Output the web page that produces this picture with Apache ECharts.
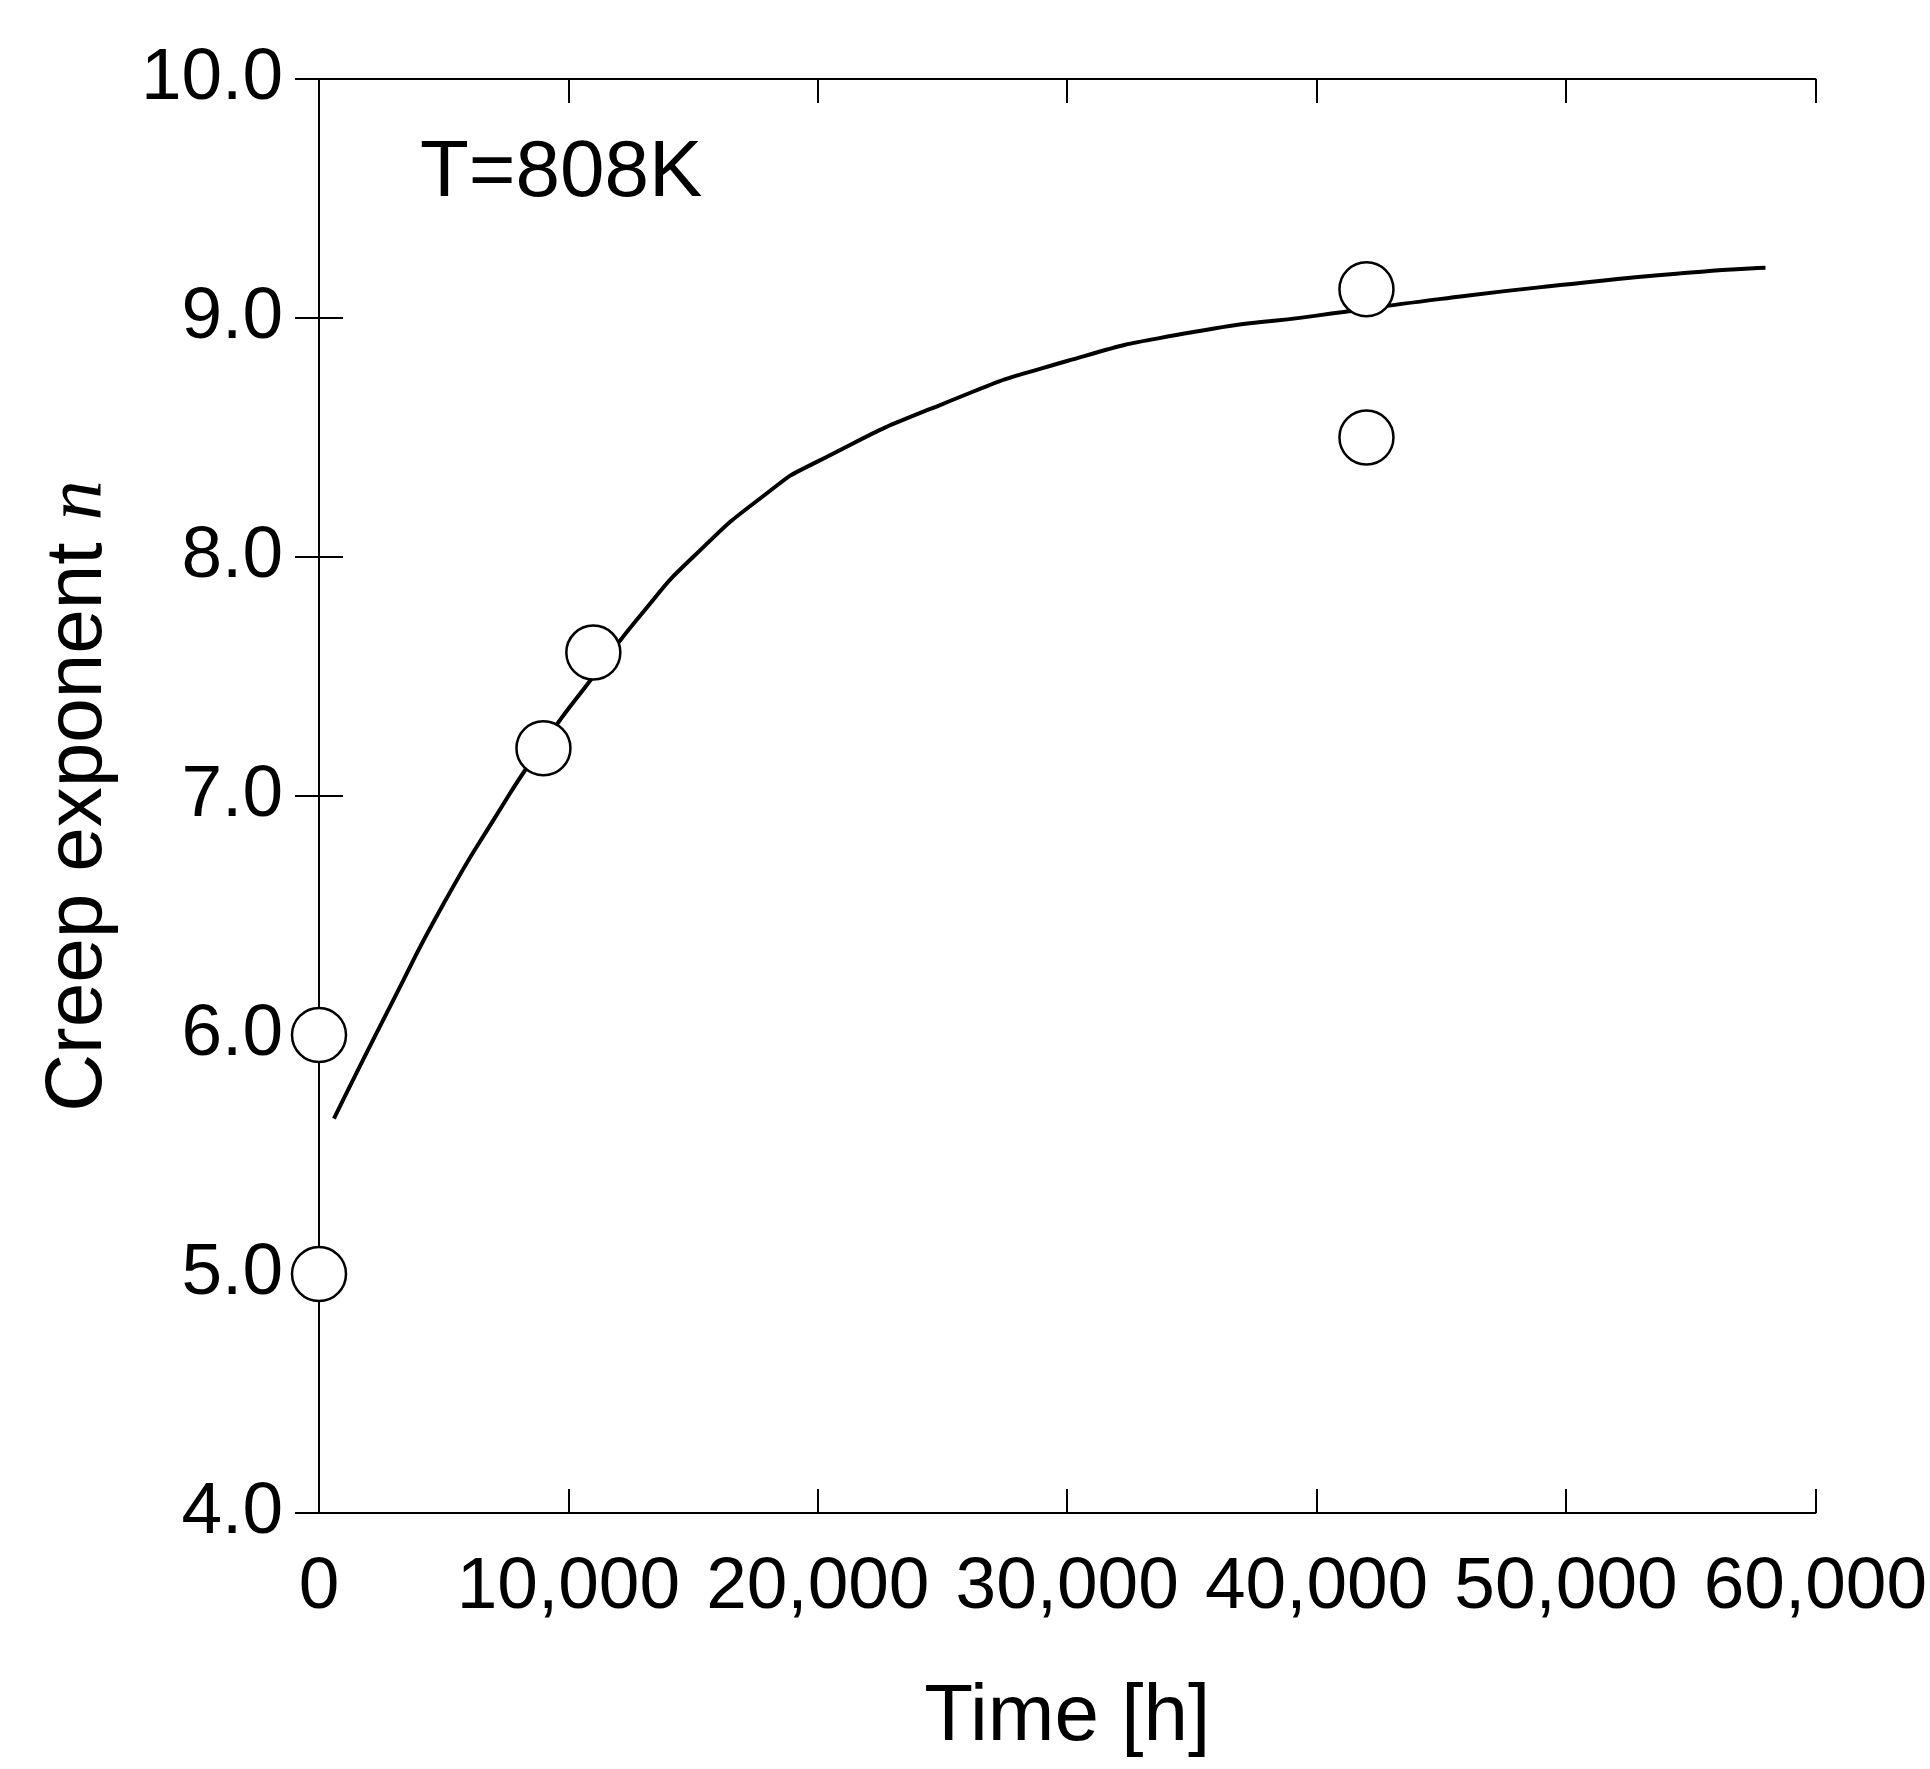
<!DOCTYPE html>
<html>
<head>
<meta charset="utf-8">
<script src="https://cdn.jsdelivr.net/npm/echarts@6/dist/echarts.min.js"></script>
<style>html,body{margin:0;padding:0;background:#fff}#main{width:1930px;height:1769px}</style>
</head>
<body>
<div id="main"></div>
<script>
var measured = [[0, 6.0], [0, 5.0], [9000, 7.2], [11000, 7.6], [42000, 9.12], [42000, 8.5]];
var fitX = [600, 3000, 5000, 7000, 9000, 11000, 13000, 15000, 18000, 20000, 25000, 30000, 35000, 40000, 45000, 50000, 55000, 58000];
var fitY = [5.65, 6.15, 6.55, 6.9, 7.22, 7.5, 7.77, 8.0, 8.27, 8.4, 8.64, 8.82, 8.94, 9.01, 9.08, 9.14, 9.19, 9.21];
var xTicks = ['0', '10,000', '20,000', '30,000', '40,000', '50,000', '60,000'];

var fitData = fitX.map(function (x, i) { return [x, fitY[i]]; });
var font = 'Liberation Sans, Arial, sans-serif';

var myChart = echarts.init(document.getElementById('main'));
var axisCommon = {
    axisLine: { lineStyle: { color: '#000', width: 2 } },
    axisTick: { inside: true, length: 24, lineStyle: { color: '#000', width: 2 } },
    splitLine: { show: false }
};
option = {
    backgroundColor: '#fff',
    animation: false,
    grid: { left: 319, right: 114, top: 79, bottom: 256 },
    graphic: [{
        type: 'text', left: 420, top: 134,
        style: { text: 'T=808K', font: '80px ' + font, fill: '#000' }
    }],
    xAxis: [
        Object.assign({
            type: 'value', min: 0, max: 60000, interval: 10000,
            name: 'Time [h]', nameLocation: 'middle', nameGap: 165,
            nameTextStyle: { fontSize: 80, fontFamily: font, color: '#000' },
            axisLabel: {
                fontSize: 73, fontFamily: font, color: '#000', margin: 38,
                formatter: function (v) { return xTicks[v / 10000]; }
            }
        }, axisCommon),
        Object.assign({
            type: 'value', min: 0, max: 60000, interval: 10000, position: 'top',
            axisLabel: { show: false }
        }, axisCommon)
    ],
    yAxis: [
        Object.assign({
            type: 'value', min: 4, max: 10, interval: 1,
            name: '{a|Creep exponent }{b|n}', nameLocation: 'middle', nameGap: 200,
            nameTextStyle: {
                rich: {
                    a: { fontSize: 80, fontFamily: font, color: '#000' },
                    b: { fontSize: 80, fontFamily: 'Liberation Serif, serif', fontStyle: 'italic', color: '#000' }
                }
            },
            axisLabel: {
                fontSize: 73, fontFamily: font, color: '#000', margin: 36,
                formatter: function (v) { return v.toFixed(1); }
            }
        }, axisCommon),
        Object.assign({
            type: 'value', min: 4, max: 10, interval: 1, position: 'right',
            axisLabel: { show: false }
        }, axisCommon)
    ],
    series: [
        {
            name: 'fit', type: 'line', smooth: 0.6, showSymbol: false,
            data: fitData, lineStyle: { color: '#000', width: 4 }, z: 2
        },
        {
            name: 'data', type: 'scatter', symbol: 'circle', symbolSize: 54,
            data: measured,
            itemStyle: { color: '#fff', borderColor: '#000', borderWidth: 2.5, opacity: 1 }, z: 3
        }
    ]
};
myChart.setOption(option);
</script>
</body>
</html>
